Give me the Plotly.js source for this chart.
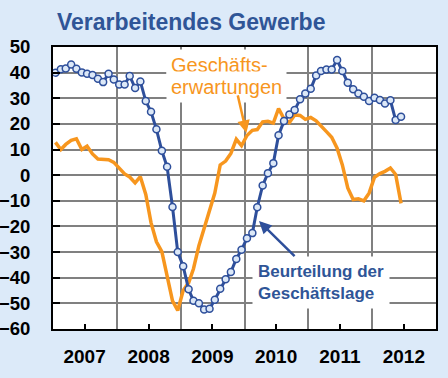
<!DOCTYPE html>
<html><head><meta charset="utf-8">
<script src="https://cdn.plot.ly/plotly-3.0.1.min.js"></script>
<style>html,body{margin:0;padding:0;background:#DCEAF9;}#chart{width:448px;height:378px;}</style>
</head><body><div id="chart"></div>
<script>
// Monthly values, Jan 2007 – Jun 2012
const startYear = 2007;
const lage = [40.0,41.3,41.6,43.2,41.5,40.1,39.6,39.1,37.6,36.3,39.6,37.3,
  35.4,35.4,38.7,34.0,36.5,28.9,24.7,17.9,9.5,3.3,-12.4,-30.0,
  -35.5,-44.5,-49.0,-50.0,-52.4,-52.1,-48.6,-44.3,-40.6,-37.8,-32.7,-29.1,
  -24.6,-22.6,-12.5,-4.0,0.8,4.7,15.6,21.1,23.7,25.4,29.6,31.9,
  33.7,38.9,40.6,41.2,41.2,44.9,40.6,36.1,33.5,31.9,30.6,28.9,
  30.2,29.3,28.0,29.2,21.5,22.8];
const erwartungen = [12.8,10.0,12.0,13.6,14.2,10.0,11.3,8.3,6.3,6.0,6.0,5.0,
  2.5,0.5,-0.7,-3.0,-0.6,-7.5,-18.5,-26.0,-29.8,-39.0,-49.0,-52.8,
  -45.0,-42.0,-36.5,-27.5,-21.0,-14.0,-7.0,4.0,5.5,8.5,14.0,11.5,
  15.5,17.5,17.8,20.8,21.0,20.3,26.0,22.0,20.5,23.5,23.3,21.8,
  22.5,21.2,19.0,17.0,14.8,10.5,4.0,-5.0,-9.5,-9.2,-10.0,-7.0,
  -0.8,0.6,1.5,2.8,0.3,-11.0];
const yearLabels = ['2007','2008','2009','2010','2011','2012'];

const months = [];
for (let i = 0; i < lage.length; i++) {
  const y = startYear + Math.floor(i / 12), m = (i % 12) + 1;
  months.push(y + '-' + String(m).padStart(2, '0') + '-15');
}
const tickVals = yearLabels.map(y => y + '-07-01');

const FONT = 'Liberation Sans, Arial, sans-serif';
const BLUE = '#2E4F9B';
const ORANGE = '#F7961E';

const traces = [
  {x: months, y: erwartungen, type: 'scatter', mode: 'lines',
   line: {color: ORANGE, width: 3.5}, hoverinfo: 'skip', name: 'Geschäftserwartungen'},
  {x: months, y: lage, type: 'scatter', mode: 'lines+markers',
   line: {color: BLUE, width: 3},
   marker: {symbol: 'circle', size: 7, color: '#DCE8F7', line: {color: BLUE, width: 1.5}},
   hoverinfo: 'skip', name: 'Beurteilung der Geschäftslage'}
];

const layout = {
  width: 448, height: 378,
  paper_bgcolor: '#DCEAF9', plot_bgcolor: '#FFFFFF',
  margin: {l: 53, r: 12, t: 47, b: 49},
  showlegend: false,
  font: {family: FONT, color: '#000'},
  title: {text: '<b>Verarbeitendes Gewerbe</b>', font: {family: FONT, size: 23, color: '#2F5597'},
          x: 57/448, xanchor: 'left', y: 1 - 22/378, yanchor: 'middle'},
  xaxis: {type: 'date', range: ['2007-01-01', '2013-01-01'],
          tickvals: tickVals, ticktext: yearLabels,
          showgrid: false, ticks: 'inside', ticklen: 5, tickwidth: 2, tickcolor: '#000',
          ticklabelstandoff: 9,
          tickfont: {family: FONT, size: 19, color: '#000', weight: 'bold'},
          showline: true, linecolor: '#000', linewidth: 2, mirror: true, zeroline: false,
          minor: {dtick: 'M12', tick0: '2007-01-01', showgrid: true, gridcolor: '#808080', gridwidth: 2, ticks: ''}},
  yaxis: {range: [-60, 50], dtick: 10, tick0: 0,
          showgrid: true, gridcolor: '#808080', gridwidth: 2, zeroline: false,
          ticks: 'inside', ticklen: 7, tickwidth: 2, tickcolor: '#000',
          ticklabelstandoff: 17,
          tickfont: {family: FONT, size: 18.5, color: '#000', weight: 'bold'},
          showline: true, linecolor: '#000', linewidth: 2, mirror: true},
  annotations: [
    {xref: 'paper', yref: 'paper', x: (166-53)/383, y: (329-65)/282, xanchor: 'left', yanchor: 'middle',
     text: 'Geschäfts-', showarrow: false, font: {family: FONT, size: 20, color: ORANGE},
     bgcolor: '#FFFFFF', borderpad: 4},
    {xref: 'paper', yref: 'paper', x: (166-53)/383, y: (329-87)/282, xanchor: 'left', yanchor: 'middle',
     text: 'erwartungen', showarrow: false, font: {family: FONT, size: 20, color: ORANGE},
     bgcolor: '#FFFFFF', borderpad: 4},
    {xref: 'x', yref: 'y', x: '2010-01-12', y: 16.5, text: '', showarrow: true,
     ax: -9, ay: -39, arrowcolor: ORANGE, arrowwidth: 2.5, arrowhead: 2, arrowsize: 1},
    {xref: 'x', yref: 'y', x: '2010-03-25', y: -17.9, text: '<b>Beurteilung der<br>Geschäftslage</b>',
     showarrow: true, ax: 62, ay: 61, align: 'left',
     font: {family: FONT, size: 17, color: '#2F5597'},
     bgcolor: '#FFFFFF', borderpad: 5,
     arrowcolor: BLUE, arrowwidth: 2.5, arrowhead: 2, arrowsize: 1}
  ]
};

Plotly.newPlot('chart', traces, layout, {staticPlot: true, displayModeBar: false});
</script></body></html>
